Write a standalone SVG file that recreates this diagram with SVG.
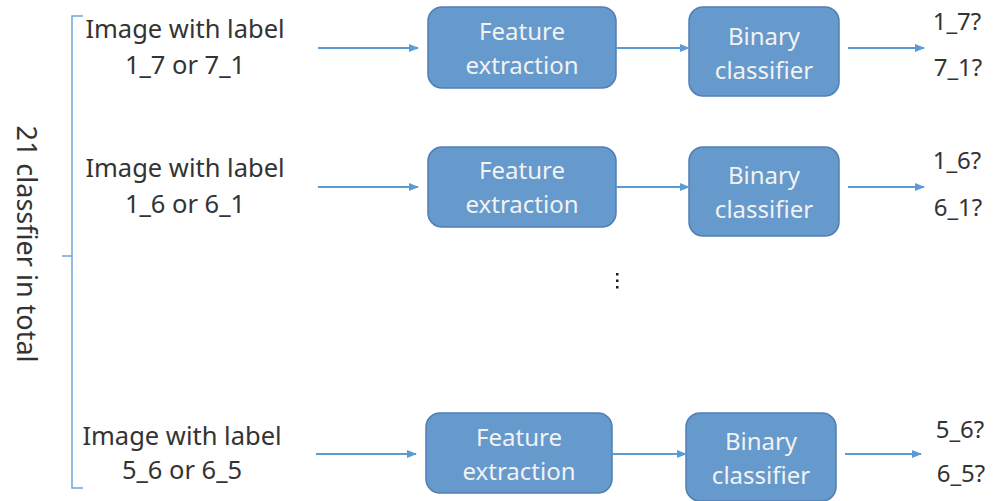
<svg xmlns="http://www.w3.org/2000/svg" width="1006" height="501" viewBox="0 0 1006 501">
<defs>
<marker id="ah" markerWidth="10" markerHeight="8" refX="9" refY="4" orient="auto" markerUnits="userSpaceOnUse">
<path d="M0,0 L10,4 L0,8 Z" fill="#5b9bd5"/>
</marker>
</defs>
<style>
.box{fill:#6699cc;stroke:#4f7fb5;stroke-width:1.5}
.bt{font-family:"Noto Sans","Liberation Sans",sans-serif;font-size:24px;fill:#f2f2f2;text-anchor:middle}
.lt{font-family:"Noto Sans","Liberation Sans",sans-serif;font-size:25.5px;fill:#333333;text-anchor:middle}
.ot{font-family:"Noto Sans","Liberation Sans",sans-serif;font-size:24px;fill:#333333;text-anchor:middle}
.ln{stroke:#5b9bd5;stroke-width:2;fill:none}
.br{stroke:#6fa3dc;stroke-width:1.5;fill:none}
</style>
<rect width="1006" height="501" fill="#ffffff"/>
<g id="brace">
<path class="br" d="M83,16 L72,16 L72,488 L83,488 M72,256 L62,256"/>
<text class="lt" style="font-size:27px" transform="translate(17,244) rotate(90)" x="0" y="0">21 classfier in total</text>
</g>
<g id="row1-input"><text class="lt" x="185" y="38">Image with label</text><text class="lt" x="185" y="74">1_7 or 7_1</text></g>
<g id="row1-feature"><rect class="box" x="428" y="7" width="188" height="81" rx="14"/><text class="bt" x="522" y="40">Feature</text><text class="bt" x="522" y="74">extraction</text></g>
<g id="row1-binary"><rect class="box" x="689" y="7" width="150" height="89" rx="14"/><text class="bt" x="764" y="45">Binary</text><text class="bt" x="764" y="79">classifier</text></g>
<g id="row1-output"><text class="ot" x="957" y="30">1_7?</text><text class="ot" x="958" y="76">7_1?</text></g>
<g id="row2-input"><text class="lt" x="185" y="177">Image with label</text><text class="lt" x="185" y="213">1_6 or 6_1</text></g>
<g id="row2-feature"><rect class="box" x="428" y="147" width="188" height="80" rx="14"/><text class="bt" x="522" y="179">Feature</text><text class="bt" x="522" y="213">extraction</text></g>
<g id="row2-binary"><rect class="box" x="689" y="147" width="150" height="89" rx="14"/><text class="bt" x="764" y="184">Binary</text><text class="bt" x="764" y="218">classifier</text></g>
<g id="row2-output"><text class="ot" x="957" y="169">1_6?</text><text class="ot" x="958" y="216">6_1?</text></g>
<g id="ellipsis" fill="#1a1a2e"><rect x="616" y="273" width="2.5" height="2.5"/><rect x="616" y="279.5" width="2.5" height="2.5"/><rect x="616" y="286" width="2.5" height="2.5"/></g>
<g id="row3-input"><text class="lt" x="182" y="445">Image with label</text><text class="lt" x="182" y="479">5_6 or 6_5</text></g>
<g id="row3-feature"><rect class="box" x="426" y="413" width="186" height="80" rx="14"/><text class="bt" x="519" y="446">Feature</text><text class="bt" x="519" y="480">extraction</text></g>
<g id="row3-binary"><rect class="box" x="686" y="413" width="150" height="88" rx="14"/><text class="bt" x="761" y="450">Binary</text><text class="bt" x="761" y="484">classifier</text></g>
<g id="row3-output"><text class="ot" x="960" y="438">5_6?</text><text class="ot" x="961" y="482">6_5?</text></g>
<g id="connectors">
<line class="ln" x1="318" y1="48" x2="418" y2="48" marker-end="url(#ah)"/>
<line class="ln" x1="616" y1="48" x2="689" y2="48" marker-end="url(#ah)"/>
<line class="ln" x1="848" y1="48" x2="924" y2="48" marker-end="url(#ah)"/>
<line class="ln" x1="318" y1="187" x2="418" y2="187" marker-end="url(#ah)"/>
<line class="ln" x1="616" y1="187" x2="689" y2="187" marker-end="url(#ah)"/>
<line class="ln" x1="848" y1="187" x2="924" y2="187" marker-end="url(#ah)"/>
<line class="ln" x1="316" y1="454" x2="416" y2="454" marker-end="url(#ah)"/>
<line class="ln" x1="612" y1="454" x2="686" y2="454" marker-end="url(#ah)"/>
<line class="ln" x1="845" y1="454" x2="921" y2="454" marker-end="url(#ah)"/>
</g>
</svg>
